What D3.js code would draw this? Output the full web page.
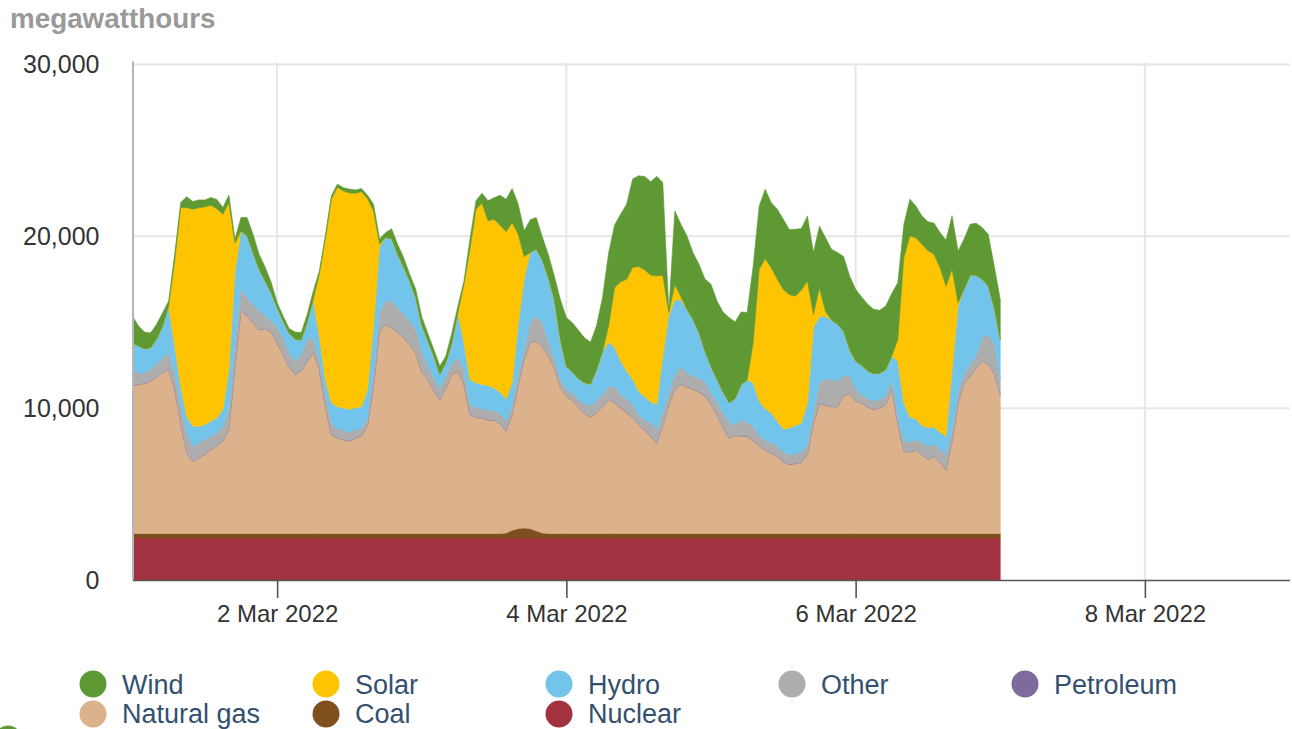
<!DOCTYPE html>
<html>
<head>
<meta charset="utf-8">
<script src="https://cdn.jsdelivr.net/npm/d3@7"></script>
<style>
  body { margin: 0; background: #fff; }
  svg { font-family: "Liberation Sans", Arial, sans-serif; }
</style>
</head>
<body>
<svg></svg>
<script>
// hourly generation, 1 Mar 2022 00:00 .. 7 Mar 2022 00:00 (megawatthours)
let startTime = Date.UTC(2022, 2, 1, 0)

let wind = [
  1550,1170,970,870,870,780,290,390,290,640,450,450,410,450,540,390,430,230,780,1070,1070,870,820,620,
  290,290,270,430,430,450,490,190,190,190,190,190,230,190,190,190,390,290,290,580,580,580,390,490,
  500,450,390,490,390,580,390,190,580,490,580,1170,1260,1750,1900,1980,1750,1500,1900,1850,1360,1360,1360,2330,
  2860,2860,2820,2620,2450,2550,3170,4240,3650,3940,4370,5150,5290,5440,5440,5790,5400,100,4280,4220,4280,3890,3980,4180,
  4800,4570,4660,4960,4470,4220,3930,4470,3690,4040,3790,4080,4080,3790,3890,3580,3790,3600,3600,4280,4120,4180,4330,4280,
  4180,3980,3890,3750,3670,3690,3650,3300,1940,2140,1850,1650,1690,1810,2040,2680,3110,3010,2920,2970,3030,3010,3010,2430,2330
]
let solar = [
  0,0,0,0,0,0,0,4960,10400,12140,12630,12730,12670,12570,12180,11370,9720,1710,0,0,0,0,0,0,
  0,0,0,0,0,0,0,3600,8160,11850,12770,12630,12590,12490,12510,11110,6700,140,0,0,0,0,0,0,
  0,0,0,0,0,0,0,3400,7580,10100,10550,9580,9810,9720,9720,9330,5250,1280,0,0,0,0,0,0,
  0,0,0,0,0,0,0,930,3460,4610,5340,6510,7250,7380,7380,7480,4700,190,910,190,0,0,0,0,
  0,0,0,0,0,0,0,2330,7680,8740,8450,8260,8120,7770,7540,7730,7090,780,1650,290,0,0,0,0,
  0,0,0,0,0,0,0,1260,8450,10530,10550,10550,10300,10050,9580,8740,5930,190,0,0,0,0,0,0,0
]
let hydro = [
  1550,1590,1400,1260,1460,1850,2720,1550,970,970,1170,970,870,870,870,970,2330,4080,3360,3600,3010,2410,2040,1610,
  1170,970,1170,1260,840,1050,2230,1360,780,1170,1280,1300,1360,1260,1280,1650,2720,3850,3690,3630,3110,2720,2330,1850,
  1500,1460,1260,780,780,1170,2620,1550,1460,1460,1400,1440,1300,1240,1300,1260,2920,4120,4080,3890,3650,3690,3400,2330,
  1320,1210,1210,1210,1240,1830,2470,2600,2270,1940,1650,1460,1360,1360,1210,1460,3300,4470,4330,3890,3690,3300,2620,1850,
  1520,1320,1170,1130,1500,2040,2490,2530,2000,1830,1750,1460,1360,1550,1630,1710,2430,4960,3850,3650,3460,3300,2620,1520,
  1650,1690,1610,1590,1520,1550,1360,3210,2230,1420,1240,970,1070,1030,970,1070,3400,5050,4900,5190,4700,3400,2820,2140,2330
]
let other = [
  950,620,600,660,700,850,950,950,1150,1150,850,850,850,760,760,850,1110,1340,1220,1010,1050,1110,720,640,
  890,950,820,760,950,1200,820,560,760,660,510,520,470,470,410,370,660,1050,1340,1530,1440,1340,1340,1340,
  1200,760,760,660,660,660,760,850,560,560,520,560,560,560,560,560,560,560,1150,1440,1340,850,560,410,
  370,430,410,560,640,660,700,720,950,760,760,760,560,560,760,800,720,660,850,1010,800,760,820,760,
  660,760,890,890,620,950,760,850,560,560,560,560,560,560,560,560,560,560,1200,1530,1570,1480,1150,1030,
  660,470,470,470,470,470,470,410,560,620,560,700,760,660,760,850,660,560,520,700,660,1340,1730,1670,850
]
let petroleum = [
  20,20,20,20,20,20,20,20,20,20,20,20,20,20,20,20,20,20,20,20,20,20,20,20,
  20,20,20,20,20,20,20,20,20,20,20,20,20,20,20,20,20,20,20,20,20,20,20,20,
  20,20,20,20,20,20,20,20,20,20,20,20,20,20,20,20,20,20,20,20,20,20,20,20,
  20,20,20,20,20,20,20,20,20,20,20,20,20,20,20,20,20,20,20,20,20,20,20,20,
  20,20,20,20,20,20,20,20,20,20,20,20,20,20,20,20,20,20,20,20,20,20,20,20,
  20,20,20,20,20,20,20,20,20,20,20,20,20,20,20,20,20,20,20,20,20,20,20,20,20
]
let naturalGas = [
  8570,8670,8730,8860,9120,9350,9540,8380,6430,4680,4200,4390,4590,4880,5070,5370,6080,9740,13000,12690,12260,11840,11910,11740,
  11060,10420,9640,9250,9450,10030,10550,9540,7410,5750,5560,5460,5370,5560,5660,6340,8670,11780,12170,11970,11680,11390,11000,10510,
  9390,8960,8280,7790,8470,9250,9450,8670,6920,6730,6730,6590,6590,6390,5920,6740,8390,9820,10820,11040,10870,10320,9640,8530,
  7990,7740,7370,6980,6780,7020,7370,7790,7600,7310,7020,6730,6340,6010,5660,5230,6280,7500,8380,8670,8530,8380,8220,7990,
  7500,6860,6140,5560,5700,5660,5660,5370,5110,4840,4680,4490,4140,4000,4060,4140,4590,6430,7560,7440,7370,7370,7990,8140,
  7700,7600,7350,7210,7310,7500,8470,6390,4780,4720,4840,4590,4300,4490,4140,3710,5370,7600,8770,9120,9640,10030,9830,9310,8090
]
let coal = [
  270,270,270,270,270,270,270,270,270,270,270,270,270,270,270,270,270,270,270,270,270,270,270,270,
  270,270,270,270,270,270,270,270,270,270,270,270,270,270,270,270,270,270,270,270,270,270,270,270,
  270,270,270,270,270,270,270,270,270,270,270,270,270,270,300,450,550,580,550,420,300,270,270,270,
  270,270,270,270,270,270,270,270,270,270,270,270,270,270,270,270,270,270,270,270,270,270,270,270,
  270,270,270,270,270,270,270,270,270,270,270,270,270,270,270,270,270,270,270,270,270,270,270,270,
  270,270,270,270,270,270,270,270,270,270,270,270,270,270,270,270,270,270,270,270,270,270,270,270,270
]
let nuclear = [
  2440,2440,2440,2440,2440,2440,2440,2440,2440,2440,2440,2440,2440,2440,2440,2440,2440,2440,2440,2440,2440,2440,2440,2440,
  2440,2440,2440,2440,2440,2440,2440,2440,2440,2440,2440,2440,2440,2440,2440,2440,2440,2440,2440,2440,2440,2440,2440,2440,
  2440,2440,2440,2440,2440,2440,2440,2440,2440,2440,2440,2440,2440,2440,2440,2440,2440,2440,2440,2440,2440,2440,2440,2440,
  2440,2440,2440,2440,2440,2440,2440,2440,2440,2440,2440,2440,2440,2440,2440,2440,2440,2440,2440,2440,2440,2440,2440,2440,
  2440,2440,2440,2440,2440,2440,2440,2440,2440,2440,2440,2440,2440,2440,2440,2440,2440,2440,2440,2440,2440,2440,2440,2440,
  2440,2440,2440,2440,2440,2440,2440,2440,2440,2440,2440,2440,2440,2440,2440,2440,2440,2440,2440,2440,2440,2440,2440,2440,2440
]

let yTicks = [0, 10000, 20000, 30000]
let xTicks = [Date.UTC(2022, 2, 2), Date.UTC(2022, 2, 4), Date.UTC(2022, 2, 6), Date.UTC(2022, 2, 8)]

let legendRow1 = ['Wind', 'Solar', 'Hydro', 'Other', 'Petroleum']
let legendRow2 = ['Natural gas', 'Coal', 'Nuclear']

let keys = ['nuclear', 'coal', 'naturalGas', 'petroleum', 'other', 'hydro', 'solar', 'wind']
let colors = {
  wind: '#5e9934', solar: '#fec402', hydro: '#72c4ea', other: '#adadad',
  petroleum: '#7e6b9d', naturalGas: '#dbb28b', coal: '#7f4f1d', nuclear: '#a2323f'
}
let legendKey = {
  'Wind': 'wind', 'Solar': 'solar', 'Hydro': 'hydro', 'Other': 'other', 'Petroleum': 'petroleum',
  'Natural gas': 'naturalGas', 'Coal': 'coal', 'Nuclear': 'nuclear'
}

let width = 1292
let height = 729
let plotLeft = 132.5
let plotRight = 1289.5
let plotTop = 64.5
let plotBottom = 580

let svg = d3.select('svg').attr('width', width).attr('height', height)

let table = wind.map((w, i) => ({
  time: new Date(startTime + i * 3600 * 1000),
  wind: w, solar: solar[i], hydro: hydro[i], other: other[i], petroleum: petroleum[i],
  naturalGas: naturalGas[i], coal: coal[i], nuclear: nuclear[i]
}))

let xScale = d3.scaleUtc()
  .domain([new Date(Date.UTC(2022, 2, 1)), new Date(Date.UTC(2022, 2, 9))])
  .range([plotLeft, plotRight])

let yScale = d3.scaleLinear()
  .domain([0, 30000])
  .range([plotBottom, plotTop])

// grid
svg.append('g')
  .selectAll('line.h')
  .data(yTicks.filter(d => d > 0))
  .enter()
  .append('line')
  .attr('x1', plotLeft).attr('x2', plotRight)
  .attr('y1', d => yScale(d)).attr('y2', d => yScale(d))
  .attr('stroke', '#e6e6e6').attr('stroke-width', 2)

svg.append('g')
  .selectAll('line.v')
  .data(xTicks)
  .enter()
  .append('line')
  .attr('x1', d => xScale(d)).attr('x2', d => xScale(d))
  .attr('y1', plotTop - 2).attr('y2', plotBottom)
  .attr('stroke', '#e6e6e6').attr('stroke-width', 2)

// stacked areas
let layers = d3.stack().keys(keys)(table)

let area = d3.area()
  .x(d => xScale(d.data.time))
  .y0(d => yScale(d[0]))
  .y1(d => yScale(d[1]))

svg.append('g')
  .selectAll('path')
  .data(layers)
  .enter()
  .append('path')
  .attr('d', area)
  .attr('fill', d => colors[d.key])
  .attr('stroke', d => colors[d.key])
  .attr('stroke-width', 0.6)

// axes
let yAxis = d3.axisLeft(yScale)
  .tickValues(yTicks)
  .tickSize(0)
  .tickPadding(33)
  .tickFormat(d3.format(','))

let yg = svg.append('g')
  .attr('transform', 'translate(' + plotLeft + ',0)')
  .call(yAxis)
yg.select('.domain').remove()
yg.selectAll('text').attr('font-size', 25).attr('fill', '#333').attr('font-family', '"Liberation Sans", Arial, sans-serif')

svg.append('line')
  .attr('x1', plotLeft + 0.5).attr('x2', plotLeft + 0.5)
  .attr('y1', plotTop - 3).attr('y2', plotBottom)
  .attr('stroke', '#b5b5b5').attr('stroke-width', 2)

let xAxis = d3.axisBottom(xScale)
  .tickValues(xTicks.map(d => new Date(d)))
  .tickSize(18)
  .tickSizeOuter(0)
  .tickPadding(7)
  .tickFormat(d3.utcFormat('%-d %b %Y'))

let xg = svg.append('g')
  .attr('transform', 'translate(0,' + plotBottom + ')')
  .call(xAxis)
xg.select('.domain').attr('stroke', '#555').attr('stroke-width', 1.6)
xg.selectAll('.tick line').attr('stroke', '#555').attr('stroke-width', 1.6)
xg.selectAll('text').attr('font-size', 24).attr('fill', '#333').attr('font-family', '"Liberation Sans", Arial, sans-serif')

// unit title
svg.append('text')
  .attr('x', 10).attr('y', 28)
  .attr('font-size', 27.8).attr('font-weight', 'bold')
  .attr('fill', '#999')
  .text('megawatthours')

// legend
let legendX = [93, 326, 559, 792, 1025]
let legendY = [684, 714]

let drawLegendRow = (items, cy, baseline) => {
  let g = svg.append('g')
  g.selectAll('circle')
    .data(items)
    .enter()
    .append('circle')
    .attr('cx', (d, i) => legendX[i])
    .attr('cy', cy)
    .attr('r', 13.5)
    .attr('fill', d => colors[legendKey[d]])
  g.selectAll('text')
    .data(items)
    .enter()
    .append('text')
    .attr('x', (d, i) => legendX[i] + 29)
    .attr('y', baseline)
    .attr('font-size', 27)
    .attr('fill', '#34506f')
    .text(d => d)
}
drawLegendRow(legendRow1, legendY[0], 693.6)
drawLegendRow(legendRow2, legendY[1], 722.8)

// next legend row, cut off by the frame
svg.append('circle')
  .attr('cx', 8).attr('cy', 739).attr('r', 13.5)
  .attr('fill', colors.wind)
</script>
</body>
</html>
